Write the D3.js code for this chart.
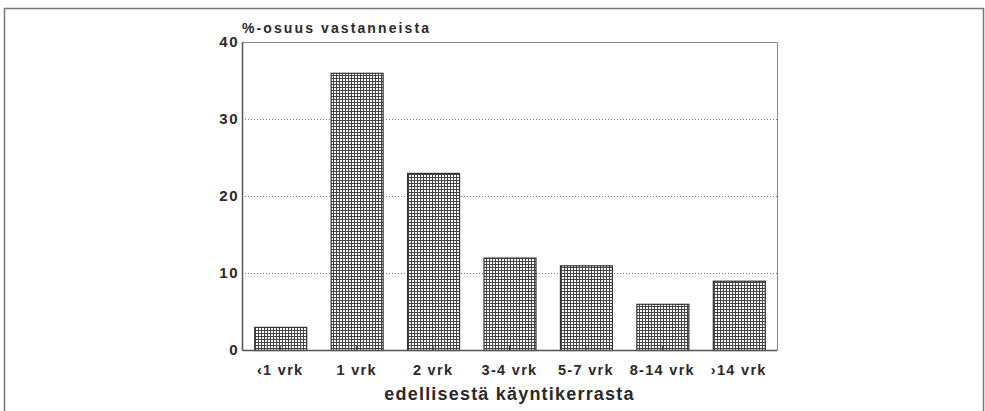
<!DOCTYPE html>
<html>
<head>
<meta charset="utf-8">
<script src="https://cdn.jsdelivr.net/npm/d3@7"></script>
<style>
  body { margin: 0; background: #fff; }
  text { font-family: "Liberation Sans", Arial, sans-serif; font-weight: bold; fill: #2a2a2a; }
</style>
</head>
<body>
<div id="chart"></div>
<script>
// Data
var categories = ["\u20391 vrk", "1 vrk", "2 vrk", "3-4 vrk", "5-7 vrk", "8-14 vrk", "\u203A14 vrk"];
var shares = [3, 36, 23, 12, 11, 6, 9];
var yTicks = [0, 10, 20, 30, 40];

var width = 985;
var height = 411;
var margin = ({ top: 42, right: 208, bottom: 61, left: 242 });

var svg = d3.select("#chart").append("svg")
    .attr("width", width)
    .attr("height", height);

// crosshatch fill for the bars
var pattern = svg.append("defs").append("pattern")
    .attr("id", "hatch")
    .attr("patternUnits", "userSpaceOnUse")
    .attr("width", 3)
    .attr("height", 3);
pattern.append("rect").attr("width", 3).attr("height", 3).attr("fill", "#fff");
pattern.append("path")
    .attr("d", "M0,0.5H3M0.5,0V3")
    .attr("stroke", "#444")
    .attr("stroke-width", 1);

// outer frame
svg.append("path")
    .attr("d", `M4.5,${height}V8.5H983.5V${height}`)
    .attr("fill", "none")
    .attr("stroke", "#777")
    .attr("stroke-width", 1.5);

var x = d3.scaleBand()
    .domain(categories)
    .range([margin.left, width - margin.right])
    .paddingInner(0.32)
    .paddingOuter(0.16);

var y = d3.scaleLinear()
    .domain([0, 40])
    .range([height - margin.bottom, margin.top]);

// dotted grid
svg.append("g")
    .selectAll("line")
    .data(yTicks.filter(d => d > 0 && d < 40))
    .join("line")
    .attr("x1", margin.left)
    .attr("x2", width - margin.right)
    .attr("y1", d => y(d) + 0.5)
    .attr("y2", d => y(d) + 0.5)
    .attr("stroke", "#777")
    .attr("stroke-dasharray", "1,2");

// plot box top and right
svg.append("path")
    .attr("d", `M${margin.left},${y(40) + 0.5}H${width - margin.right + 0.5}V${y(0)}`)
    .attr("fill", "none")
    .attr("stroke", "#888")
    .attr("stroke-width", 1);

// bars
svg.append("g")
    .selectAll("rect")
    .data(shares)
    .join("rect")
    .attr("x", (d, i) => x(categories[i]) + 0.5)
    .attr("y", d => y(d) + 0.5)
    .attr("width", x.bandwidth())
    .attr("height", d => y(0) - y(d))
    .attr("fill", "url(#hatch)")
    .attr("stroke", "#333")
    .attr("stroke-width", 1.2);

// x axis
var xAxis = svg.append("g")
    .attr("transform", `translate(0,${y(0)})`)
    .call(d3.axisBottom(x).tickSizeInner(-4).tickSizeOuter(0).tickPadding(10));
xAxis.select(".domain").attr("stroke", "#555").attr("stroke-width", 1.5);
xAxis.selectAll(".tick line").attr("stroke", "#333");
xAxis.selectAll("text")
    .style("font-size", "14.5px")
    .style("letter-spacing", "1.3px")
    .attr("fill", "#2a2a2a")
    .attr("dy", "1em");

// y axis
var yAxis = svg.append("g")
    .attr("transform", `translate(${margin.left},0)`)
    .call(d3.axisLeft(y).tickValues(yTicks).tickSize(0).tickPadding(3));
yAxis.select(".domain").attr("stroke", "#555").attr("stroke-width", 1.5);
yAxis.selectAll("text")
    .style("font-size", "15px")
    .style("letter-spacing", "1.5px")
    .attr("fill", "#2a2a2a");

// titles
svg.append("text")
    .attr("x", margin.left)
    .attr("y", 33)
    .style("font-size", "14px")
    .style("letter-spacing", "2.1px")
    .text("%-osuus vastanneista");

svg.append("text")
    .attr("x", (margin.left + width - margin.right) / 2)
    .attr("y", 400)
    .attr("text-anchor", "middle")
    .style("font-size", "18px")
    .style("letter-spacing", "1.2px")
    .text("edellisestä käyntikerrasta");
</script>
</body>
</html>
